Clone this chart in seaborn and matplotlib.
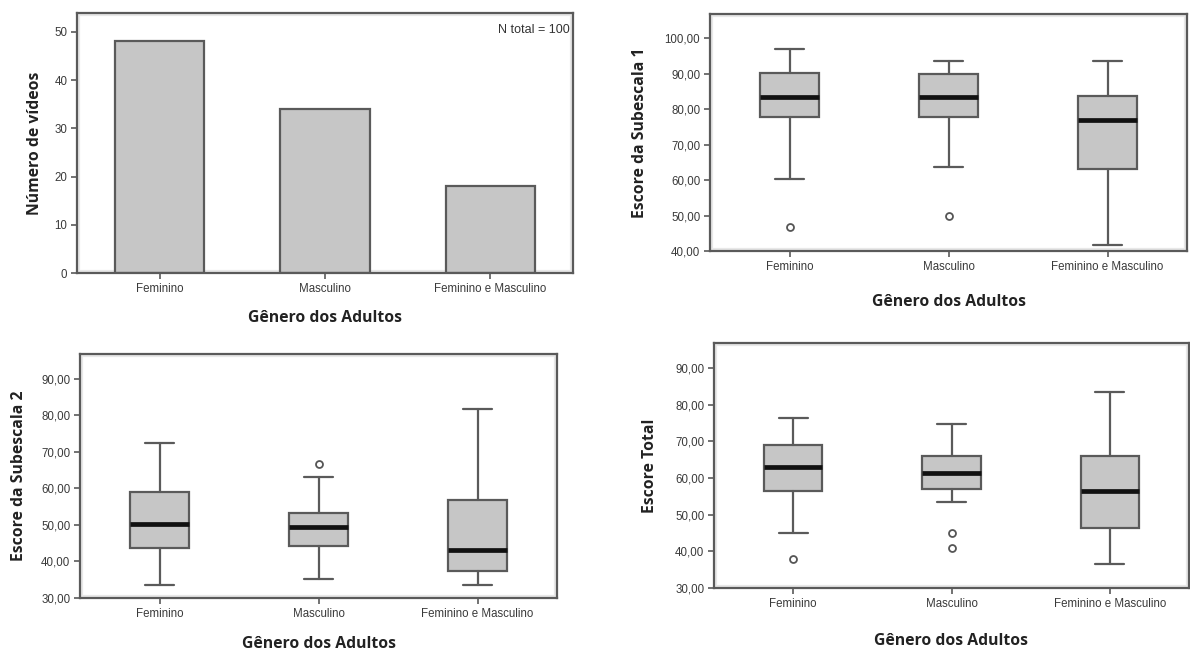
import matplotlib
matplotlib.use("Agg")
import matplotlib.pyplot as plt
from matplotlib.ticker import FuncFormatter, FixedLocator
from matplotlib.patches import Rectangle
import seaborn as sns
import pandas as pd

# ---------------- data ----------------
categories = ["Feminino", "Masculino", "Feminino e Masculino"]
n_videos = [48, 34, 18]

# box statistics: lower whisker, Q1, median, Q3, upper whisker, outliers
sub1_whislo = [60.2, 63.6, 41.7]
sub1_q1 = [77.9, 77.9, 63.2]
sub1_med = [83.3, 83.3, 76.8]
sub1_q3 = [90.3, 90.0, 83.8]
sub1_whishi = [96.9, 93.5, 93.5]
sub1_fliers = [[46.8], [50.0], []]

sub2_whislo = [33.5, 35.2, 33.5]
sub2_q1 = [43.7, 44.2, 37.4]
sub2_med = [50.1, 49.5, 43.2]
sub2_q3 = [58.9, 53.1, 56.7]
sub2_whishi = [72.3, 63.2, 81.8]
sub2_fliers = [[], [66.7], []]

tot_whislo = [45.0, 53.5, 36.5]
tot_q1 = [56.5, 57.0, 46.4]
tot_med = [62.9, 61.3, 56.5]
tot_q3 = [69.1, 65.9, 65.9]
tot_whishi = [76.3, 74.6, 83.5]
tot_fliers = [[37.9], [45.0, 40.8], []]

xlabel = "Gênero dos Adultos"

# ---------------- style ----------------
sns.set_theme(style="white")
plt.rcParams["font.family"] = ["Liberation Sans", "DejaVu Sans"]

EDGE = "#5a5a5a"
FILL = "#c6c6c6"
TICKC = "#3a3a3a"
LABEL_FONT = dict(family=["Open Sans", "DejaVu Sans"], fontweight="bold",
                  fontsize=11.3, color="#222222")

fig = plt.figure(figsize=(11.9, 6.52), dpi=100)
W, H = 1190.0, 652.0


def add_axes(left, right, top, bottom):
    return fig.add_axes([left / W, 1 - bottom / H, (right - left) / W, (bottom - top) / H])


def style_axes(ax, yticks, fmt_comma=True):
    for s in ax.spines.values():
        s.set_visible(True)
        s.set_color(EDGE)
        s.set_linewidth(1.6)
    ax.set_xlim(-0.5, 2.5)
    ax.set_xticks([0, 1, 2])
    ax.set_xticklabels(categories)
    ax.yaxis.set_major_locator(FixedLocator(yticks))
    if fmt_comma:
        ax.yaxis.set_major_formatter(FuncFormatter(lambda v, p: f"{v:.2f}".replace(".", ",")))
    else:
        ax.yaxis.set_major_formatter(FuncFormatter(lambda v, p: f"{int(v)}"))
    ax.tick_params(axis="both", which="both", direction="out", length=4, width=1.2,
                   color=EDGE, labelsize=8.3, labelcolor=TICKC, left=True, bottom=True,
                   top=False, right=False, pad=3)
    ax.grid(False)
    # light inner frame typical of SPSS output
    ax.add_patch(Rectangle((0.004, 0.008), 0.992, 0.984, transform=ax.transAxes,
                           fill=False, edgecolor="#e8e8e8", lw=1.6, zorder=0.5))
    ax.set_xlabel(xlabel, **LABEL_FONT)


def box_panel(ax, whislo, q1, med, q3, whishi, fliers):
    stats = []
    for i in range(len(categories)):
        stats.append(dict(whislo=whislo[i], q1=q1[i], med=med[i], q3=q3[i],
                          whishi=whishi[i], fliers=fliers[i], label=categories[i]))
    ax.bxp(stats, positions=[0, 1, 2], widths=0.37, capwidths=0.185, patch_artist=True,
           boxprops=dict(facecolor=FILL, edgecolor=EDGE, linewidth=1.6),
           medianprops=dict(color="#111111", linewidth=3.4),
           whiskerprops=dict(color=EDGE, linewidth=1.6),
           capprops=dict(color=EDGE, linewidth=1.6),
           flierprops=dict(marker="o", markersize=5, markerfacecolor="white",
                           markeredgecolor="#555555", markeredgewidth=1.3))


# ---------------- panel 1: bar chart ----------------
ax1 = add_axes(77, 573, 13, 273)
df = pd.DataFrame({"genero": categories, "n": n_videos})
sns.barplot(data=df, x="genero", y="n", ax=ax1, color=FILL, edgecolor=EDGE,
            linewidth=1.6, width=0.54, saturation=1)
ax1.set_ylim(0, 53.9)
style_axes(ax1, [0, 10, 20, 30, 40, 50], fmt_comma=False)
ax1.set_ylabel("Número de vídeos", **LABEL_FONT, labelpad=8)
ax1.xaxis.labelpad = 11
ax1.text(0.994, 0.935, "N total = 100", transform=ax1.transAxes, ha="right", va="center",
         fontsize=9, color="#333333")

# ---------------- panel 2: subescala 1 ----------------
ax2 = add_axes(710, 1187, 14, 251)
box_panel(ax2, sub1_whislo, sub1_q1, sub1_med, sub1_q3, sub1_whishi, sub1_fliers)
ax2.set_ylim(40, 106.8)
style_axes(ax2, [40, 50, 60, 70, 80, 90, 100])
ax2.set_ylabel("Escore da Subescala 1", **LABEL_FONT, labelpad=12)
ax2.xaxis.labelpad = 15

# ---------------- panel 3: subescala 2 ----------------
ax3 = add_axes(80, 557, 354, 598)
box_panel(ax3, sub2_whislo, sub2_q1, sub2_med, sub2_q3, sub2_whishi, sub2_fliers)
ax3.set_ylim(30, 96.7)
style_axes(ax3, [30, 40, 50, 60, 70, 80, 90])
ax3.set_ylabel("Escore da Subescala 2", **LABEL_FONT, labelpad=10)
ax3.xaxis.labelpad = 12

# ---------------- panel 4: escore total ----------------
ax4 = add_axes(714, 1189, 343, 588)
box_panel(ax4, tot_whislo, tot_q1, tot_med, tot_q3, tot_whishi, tot_fliers)
ax4.set_ylim(30, 96.8)
style_axes(ax4, [30, 40, 50, 60, 70, 80, 90])
ax4.set_ylabel("Escore Total", **LABEL_FONT, labelpad=12)
ax4.xaxis.labelpad = 17

fig.savefig("out.png", dpi=100)
